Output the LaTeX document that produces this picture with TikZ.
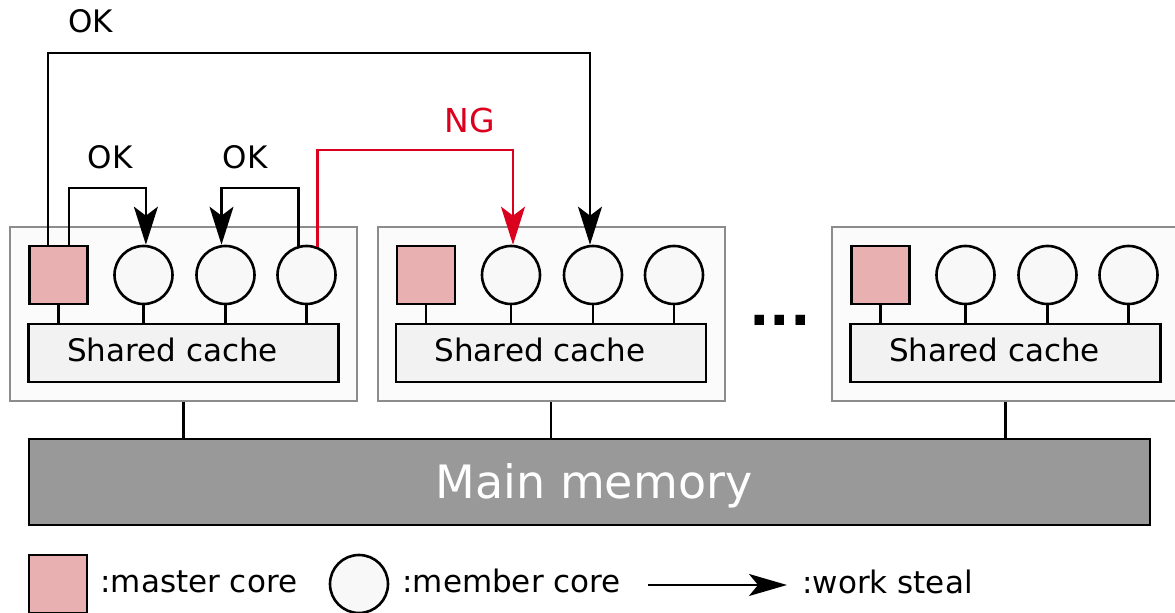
\documentclass[tikz,border=0pt]{standalone}
\usepackage{fontspec}
\setmainfont{DejaVu Sans}
\usetikzlibrary{arrows.meta}

\definecolor{masterpink}{RGB}{232,176,176}
\definecolor{corefill}{RGB}{248,248,248}
\definecolor{cachefill}{RGB}{242,242,242}
\definecolor{groupfill}{RGB}{251,251,251}
\definecolor{groupline}{RGB}{140,140,140}
\definecolor{memfill}{RGB}{153,153,153}
\definecolor{ngred}{RGB}{218,0,30}

\tikzset{
  master/.style={draw, fill=masterpink, line width=1.3pt, minimum size=29pt, inner sep=0pt},
  member/.style={draw, circle, fill=corefill, line width=1.3pt, minimum size=29pt, inner sep=0pt},
  cachebox/.style={draw, fill=cachefill, line width=1.3pt, minimum width=155pt, minimum height=29pt, inner sep=0pt},
  groupbox/.style={draw=groupline, fill=groupfill, line width=1pt, minimum width=173.5pt, minimum height=87pt, inner sep=0pt},
  membox/.style={draw, fill=memfill, line width=1.3pt, minimum width=560.5pt, minimum height=43pt, inner sep=0pt},
  lbl/.style={font=\fontsize{15.5pt}{18pt}\selectfont, inner sep=0pt, anchor=base},
  stub/.style={line width=1.2pt},
  steal/.style={line width=1.2pt, -{Stealth[length=19pt, width=12pt, inset=4.5pt]}},
  ngsteal/.style={steal, draw=ngred},
}

\begin{document}
\begin{tikzpicture}[x=0.5pt, y=-0.5pt]
\useasboundingbox (0,0) rectangle (1175,613);
\clip (0,0) rectangle (1175,613);

% main memory
\node[membox] (mm) at (589.5,482) {};
\node[lbl, anchor=base, text=white, font=\fontsize{23pt}{27pt}\selectfont] (mmt) at (594,499) {Main memory};

% three core groups
\foreach \i/\x in {1/183.5, 2/551, 3/1005.5} {
  \node[groupbox] (g\i) at (\x,314) {};
  \node[cachebox] (sc\i) at (\x,353) {};
  \node[lbl] (sct\i) at (\x-11,362) {Shared cache};
  \node[master] (m\i) at (\x-125,275) {};
  \node[member] (c\i1) at (\x-40,275) {};
  \node[member] (c\i2) at (\x+42,275) {};
  \node[member] (c\i3) at (\x+123,275) {};
  \draw[stub] (m\i.south) -- (m\i.south |- sc\i.north);
  \foreach \j in {1,2,3}
    \draw[stub] (c\i\j.south) -- (c\i\j.south |- sc\i.north);
  \draw[stub] (g\i.south) -- (g\i.south |- mm.north);
}

% ellipsis between the groups
\node[inner sep=0pt, anchor=base, font=\bfseries\fontsize{27pt}{30pt}\selectfont] (dots) at (780,326) {...};

% heights of the steal paths
\coordinate (h53) at (0,53);
\coordinate (h150) at (0,150);
\coordinate (h188) at (0,188);

% start and end points of the steal paths
\coordinate (s1) at ([xshift=10pt]m1.north west);
\coordinate (e1) at ([xshift=-1.5pt]c22.north);
\coordinate (s2) at ([xshift=-10pt]m1.north east);
\coordinate (e2) at ([xshift=1.2pt]c11.north);
\coordinate (s3) at (c13.105);
\coordinate (e3) at ([xshift=-2pt]c12.north);
\coordinate (s4) at (c13.69);
\coordinate (e4) at ([xshift=1pt]c21.north);

% work steal paths
\draw[steal] (s1) -- (s1 |- h53) -| (e1);
\draw[steal] (s2) -- (s2 |- h188) -| (e2);
\draw[steal] (s3) -- (s3 |- h188) -| (e3);
\draw[ngsteal] (s4) -- (s4 |- h150) -| (e4);

% path labels
\node[lbl] (ok1) at (90.5,33) {OK};
\node[lbl] (ok2) at (110,169) {OK};
\node[lbl] (ok3) at (245,169) {OK};
\node[lbl, text=ngred, font=\fontsize{16.5pt}{19pt}\selectfont] (ng) at (469.5,133) {NG};

% legend
\node[master] (lm) at (58,584) {};
\node[lbl, anchor=base west] (lmt) at (100,593) {:master core};
\node[member] (lc) at (359,584) {};
\node[lbl, anchor=base west] (lct) at (402,593) {:member core};
\coordinate (la) at (648,585);
\coordinate (lb) at (787,585);
\draw[line width=1pt, -{Stealth[length=19pt, width=11pt, inset=4.5pt]}] (la) -- (lb);
\node[lbl, anchor=base west] (lat) at (802,594) {:work steal};
\end{tikzpicture}
\end{document}
